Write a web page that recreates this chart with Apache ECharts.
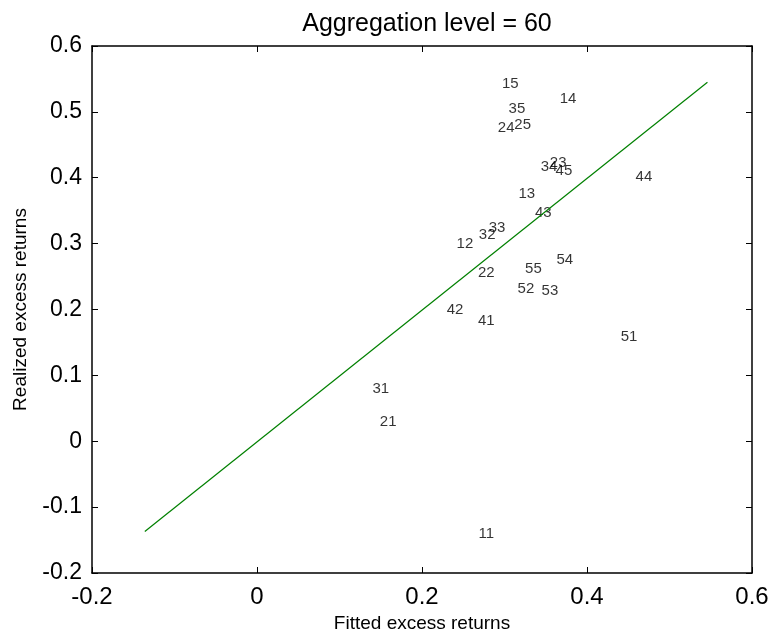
<!DOCTYPE html>
<html>
<head>
<meta charset="utf-8">
<script src="https://cdn.jsdelivr.net/npm/echarts@6/dist/echarts.min.js"></script>
<style>
  html, body { margin: 0; padding: 0; background: #fff; }
  #chart { width: 776px; height: 635px; }
</style>
</head>
<body>
<div id="chart"></div>
<script>
// portfolio labels and their fitted / realized excess returns
var portfolios = ["15", "14", "35", "24", "25", "34", "23", "45", "13", "43",
    "44", "12", "32", "33", "22", "55", "54", "52", "53", "42",
    "41", "51", "31", "21", "11"];
var fitted = [0.307, 0.377, 0.315, 0.302, 0.322, 0.354, 0.365, 0.372, 0.327, 0.347,
    0.469, 0.252, 0.279, 0.291, 0.278, 0.335, 0.373, 0.326, 0.355, 0.240,
    0.278, 0.451, 0.150, 0.159, 0.278];
var realized = [0.543, 0.520, 0.504, 0.475, 0.481, 0.416, 0.423, 0.411, 0.375, 0.346,
    0.402, 0.299, 0.314, 0.324, 0.255, 0.261, 0.275, 0.231, 0.228, 0.200,
    0.182, 0.158, 0.079, 0.030, -0.141];
// 45 degree line end points
var lineX = [-0.136, 0.546];
var lineY = [-0.137, 0.545];
var xTicks = [-0.2, 0, 0.2, 0.4, 0.6];
var yTicks = [-0.2, -0.1, 0, 0.1, 0.2, 0.3, 0.4, 0.5, 0.6];

var fontName = "Liberation Sans";

var pts = [];
for (var i = 0; i < portfolios.length; i++) {
    pts.push({name: portfolios[i], value: [fitted[i], realized[i]]});
}
var linePts = [];
for (var j = 0; j < lineX.length; j++) {
    linePts.push([lineX[j], lineY[j]]);
}

function fmt(v) {
    var r = Math.round(v * 10) / 10;
    if (r === 0) return "0";
    return String(r);
}

var axisLine = {show: true, onZero: false, lineStyle: {color: "#000", width: 1.5}};
var tickIn = {show: true, inside: true, length: 6, lineStyle: {color: "#000", width: 1}};

var myChart = echarts.init(document.getElementById("chart"));
var option = {
    animation: false,
    backgroundColor: "#fff",
    title: {
        text: "Aggregation level = 60",
        left: 422, top: 7,
        textAlign: "center",
        textStyle: {fontFamily: fontName, fontSize: 25, fontWeight: "normal", color: "#000"}
    },
    grid: {left: 92, right: 24, top: 46, bottom: 62, containLabel: false, outerBoundsMode: "none"},
    xAxis: [
        {
            type: "value", min: -0.2, max: 0.6, interval: 0.2,
            axisLine: axisLine, axisTick: tickIn, splitLine: {show: false},
            axisLabel: {
                fontFamily: fontName, fontSize: 24, color: "#000", margin: 12,
                formatter: function (v) { return xTicks.indexOf(Math.round(v * 10) / 10) >= 0 ? fmt(v) : ""; }
            },
            name: "Fitted excess returns", nameLocation: "middle", nameGap: 40,
            nameTextStyle: {fontFamily: fontName, fontSize: 19, color: "#000"}
        },
        {
            type: "value", position: "top", min: -0.2, max: 0.6, interval: 0.2,
            axisLine: axisLine, axisTick: tickIn, axisLabel: {show: false}, splitLine: {show: false}
        }
    ],
    yAxis: [
        {
            type: "value", min: -0.2, max: 0.6, interval: 0.1,
            axisLine: axisLine, axisTick: tickIn, splitLine: {show: false},
            axisLabel: {
                fontFamily: fontName, fontSize: 23, color: "#000", margin: 10,
                formatter: function (v) { return yTicks.indexOf(Math.round(v * 10) / 10) >= 0 ? fmt(v) : ""; }
            },
            name: "Realized excess returns", nameLocation: "middle", nameGap: 62,
            nameTextStyle: {fontFamily: fontName, fontSize: 19, color: "#000"}
        },
        {
            type: "value", position: "right", min: -0.2, max: 0.6, interval: 0.1,
            axisLine: axisLine, axisTick: tickIn, axisLabel: {show: false}, splitLine: {show: false}
        }
    ],
    series: [
        {
            type: "line",
            data: linePts,
            symbol: "none",
            lineStyle: {color: "#008000", width: 1.2},
            silent: true
        },
        {
            type: "scatter",
            data: pts,
            symbolSize: 0,
            label: {
                show: true,
                position: "inside",
                formatter: "{b}",
                fontFamily: fontName,
                fontSize: 15,
                color: "#000"
            }
        }
    ]
};
myChart.setOption(option);
</script>
</body>
</html>
